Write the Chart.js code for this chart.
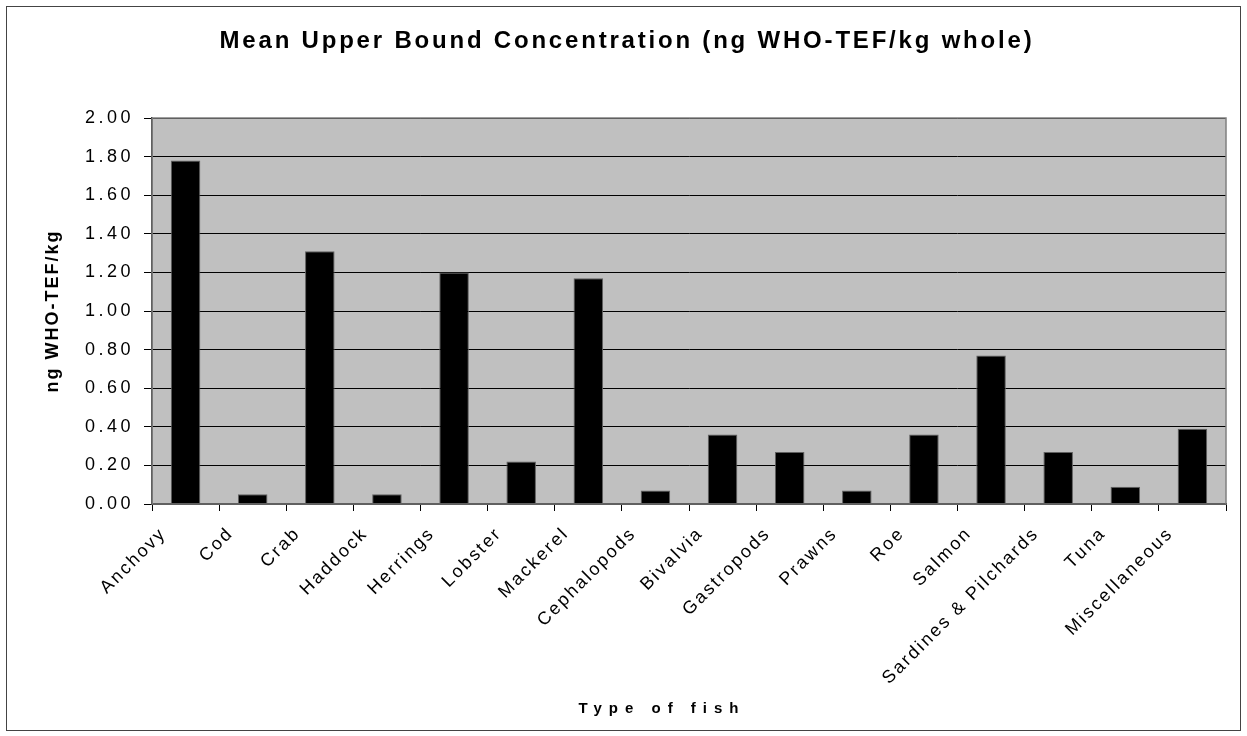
<!DOCTYPE html>
<html>
<head>
<meta charset="utf-8">
<script src="https://cdn.jsdelivr.net/npm/chart.js@4.4.1/dist/chart.umd.min.js"></script>
<style>
  html, body { margin: 0; padding: 0; background: #ffffff; }
  #wrap { position: relative; width: 1247px; height: 736px; }
  #frame { position: absolute; left: 6px; top: 6px; width: 1235px; height: 725px; border: 1.5px solid #444; box-sizing: border-box; }
  canvas { position: absolute; left: 0; top: 0; }
</style>
</head>
<body>
<div id="wrap">
  <div id="frame"></div>
  <canvas id="c" width="1247" height="736"></canvas>
</div>
<script>
const TITLE = 'Mean Upper Bound Concentration (ng WHO-TEF/kg whole)';
const Y_TITLE = 'ng WHO-TEF/kg';
const X_TITLE = 'Type of fish';
const categories = ['Anchovy', 'Cod', 'Crab', 'Haddock', 'Herrings', 'Lobster', 'Mackerel', 'Cephalopods',
  'Bivalvia', 'Gastropods', 'Prawns', 'Roe', 'Salmon', 'Sardines & Pilchards', 'Tuna', 'Miscellaneous'];
const values = [1.78, 0.05, 1.31, 0.05, 1.20, 0.22, 1.17, 0.07, 0.36, 0.27, 0.07, 0.36, 0.77, 0.27, 0.09, 0.39];
const yTicks = [0, 0.2, 0.4, 0.6, 0.8, 1.0, 1.2, 1.4, 1.6, 1.8, 2.0];

const FONT = "'Liberation Sans', Arial, sans-serif";

const plotBg = {
  id: 'plotBg',
  beforeDraw(chart) {
    const {ctx, chartArea: a} = chart;
    ctx.save();
    ctx.fillStyle = '#c0c0c0';
    ctx.fillRect(a.left, a.top, a.right - a.left, a.bottom - a.top);
    ctx.restore();
  },
  afterDatasetsDraw(chart) {
    const {ctx, chartArea: a} = chart;
    ctx.save();
    ctx.strokeStyle = '#808080';
    ctx.lineWidth = 1.5;
    ctx.strokeRect(a.left, a.top, a.right - a.left, a.bottom - a.top);
    ctx.restore();
  }
};

// Excel-like letter spacing (and small shifts) for selected text
function spaced(obj, key, spacing, dx, dy) {
  const orig = obj[key];
  obj[key] = function (...args) {
    const ctx = this.ctx || this.chart.ctx;
    ctx.save();
    ctx.letterSpacing = spacing;
    ctx.translate(dx || 0, dy || 0);
    const r = orig.apply(this, args);
    ctx.restore();
    return r;
  };
}

const spacingPlugin = {
  id: 'spacing',
  beforeDraw(chart) {
    if (chart.$spacedDone) return;
    chart.$spacedDone = true;
    spaced(chart.titleBlock, 'draw', '2.8px', 10, 0);
    spaced(chart.scales.x, 'drawTitle', '7px', -27, 0);
    spaced(chart.scales.x, 'drawLabels', '2.3px', 0, 0);
    spaced(chart.scales.y, 'drawLabels', '3.5px', 0, 0);
    spaced(chart.scales.y, 'drawTitle', '2px', 0, 0);
  }
};

new Chart(document.getElementById('c'), {
  type: 'bar',
  data: {
    labels: categories,
    datasets: [{
      data: values,
      backgroundColor: '#000000',
      borderColor: '#606060',
      borderWidth: 1,
      barPercentage: 0.44,
      categoryPercentage: 1.0
    }]
  },
  options: {
    responsive: false,
    animation: false,
    layout: { padding: { left: 8, right: 21, top: 27, bottom: 14 } },
    plugins: {
      legend: { display: false },
      tooltip: { enabled: false },
      title: {
        display: true,
        text: TITLE,
        color: '#000',
        font: { family: FONT, size: 24, weight: 'bold', lineHeight: 1.2 },
        padding: { top: 0, bottom: 62.2 }
      }
    },
    scales: {
      x: {
        grid: { display: true, drawOnChartArea: false, drawTicks: true, tickLength: 7, color: '#000', offset: true },
        border: { display: true, color: '#000', width: 1.5 },
        ticks: {
          color: '#000',
          font: { family: FONT, size: 18 },
          maxRotation: 45, minRotation: 45,
          autoSkip: false,
          labelOffset: -22,
          padding: 12
        },
        title: {
          display: true, text: X_TITLE, color: '#000',
          font: { family: FONT, size: 15, weight: 'bold', lineHeight: 1.2 },
          padding: { top: 10, bottom: 4 }
        },
        afterFit(s) { s.height = 736 - 14 - 504; }
      },
      y: {
        min: 0, max: 2,
        afterBuildTicks(s) { s.ticks = yTicks.map(v => ({ value: v })); },
        grid: { color: '#000', lineWidth: 1, drawTicks: true, tickLength: 8 },
        border: { display: true, color: '#000', width: 1.5 },
        ticks: {
          color: '#000',
          font: { family: FONT, size: 18 },
          padding: 10,
          callback: v => Number(v).toFixed(2)
        },
        title: {
          display: true, text: Y_TITLE, color: '#000',
          font: { family: FONT, size: 18, weight: 'bold', lineHeight: 1.2 },
          padding: { top: 34, bottom: 0 }
        },
        afterFit(s) { s.width = 152 - 8; }
      }
    }
  },
  plugins: [plotBg, spacingPlugin]
});
</script>
</body>
</html>
